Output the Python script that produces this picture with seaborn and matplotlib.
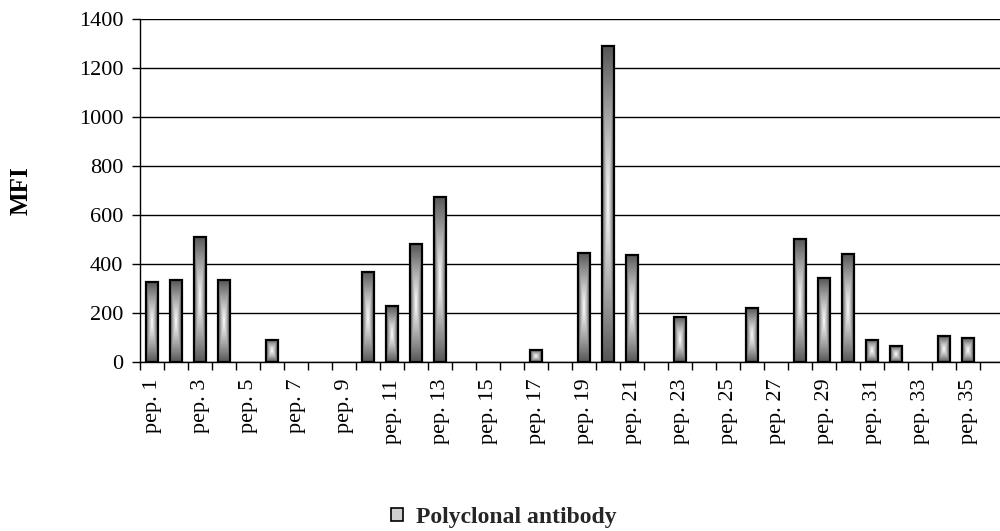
import numpy as np
import matplotlib
matplotlib.use("Agg")
import matplotlib.pyplot as plt
import seaborn as sns
import pandas as pd
from matplotlib.patches import Rectangle
from matplotlib.ticker import FixedLocator

# ---- data ----
peptides = [f"pep. {i}" for i in range(1, 37)]
mfi = [325, 334, 512, 334, 0, 90, 0, 0, 0, 367, 228, 480, 675, 0, 0, 0,
       48, 0, 446, 1287, 438, 0, 186, 0, 0, 219, 0, 504, 342, 439, 90, 64,
       0, 105, 97, 0]
series_name = "Polyclonal antibody"
y_label = "MFI"
y_ticks = [0, 200, 400, 600, 800, 1000, 1200, 1400]
shown_labels = peptides[0::2]

sns.set_theme(style="white")
plt.rcParams["font.family"] = ["Liberation Serif", "DejaVu Serif"]

fig = plt.figure(figsize=(10, 5.31), dpi=100)
ax = fig.add_axes([0.14, 0.318, 0.86, 0.6467])

df = pd.DataFrame({"peptide": peptides, "MFI": mfi})
sns.barplot(data=df, x="peptide", y="MFI", color="#bbbbbb", width=0.46,
            ax=ax, edgecolor="black", linewidth=1.6, zorder=4)

# gradient fill ("from center") for each bar
n = 80
u = np.linspace(-1, 1, n)
U, V = np.meshgrid(u, u)
T = np.maximum(np.abs(U), np.abs(V))
dark, light = 88, 252
g = light - (light - dark) * T ** 1.1
img = np.dstack([g, g, g]).astype(np.uint8)

for p in ax.patches:
    h = p.get_height()
    if not h or h <= 0:
        p.set_visible(False)
        continue
    x0, w = p.get_x(), p.get_width()
    im = ax.imshow(img, extent=(x0, x0 + w, 0, h), aspect="auto",
                   zorder=3, interpolation="bilinear")
    im.set_clip_path(p)
    p.set_facecolor("none")

ax.set_xlim(-0.5, -0.5 + 860 / 24)
ax.set_ylim(0, 1400)
ax.set_yticks(y_ticks)
ax.set_yticklabels([str(t) for t in y_ticks])

ax.set_xticks(range(0, len(peptides), 2))
ax.set_xticklabels(shown_labels, rotation=90)
ax.xaxis.set_minor_locator(FixedLocator(np.arange(-0.5, len(peptides), 1)))
ax.tick_params(axis="x", which="major", length=0, pad=12, labelsize=16,
               colors="black")
ax.tick_params(axis="x", which="minor", length=6, width=1, direction="out",
               bottom=True, color="black")
ax.tick_params(axis="y", length=6, width=1, direction="out", left=True,
               pad=6, labelsize=16, colors="black")

ax.yaxis.grid(True, color="black", linewidth=1)
ax.xaxis.grid(False)
ax.set_axisbelow(True)

for s in ["top", "right"]:
    ax.spines[s].set_visible(False)
for s in ["left", "bottom"]:
    ax.spines[s].set_color("black")
    ax.spines[s].set_linewidth(1)

ax.set_xlabel("")
ax.set_ylabel(y_label, fontsize=18, fontweight="bold", color="black")
ax.yaxis.set_label_coords(-0.125, 0.5)

handle = Rectangle((0, 0), 1, 1, facecolor="#d0d0d0", edgecolor="black",
                   linewidth=1.2)
fig.legend([handle], [series_name], loc="center",
           bbox_to_anchor=(0.504, 0.026), frameon=False,
           prop={"size": 17, "weight": "bold"}, handlelength=0.5,
           handleheight=0.5, handletextpad=0.55)

fig.savefig("out.png", dpi=100, facecolor="white")
